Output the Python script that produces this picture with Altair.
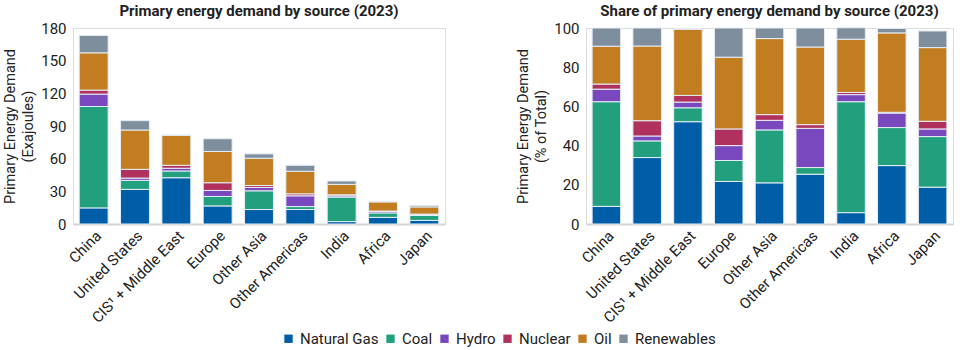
import altair as alt
import pandas as pd

regions = ["China", "United States", "CIS¹ + Middle East", "Europe", "Other Asia",
           "Other Americas", "India", "Africa", "Japan"]
sources = ["Natural Gas", "Coal", "Hydro", "Nuclear", "Oil", "Renewables"]
colors = ["#005EA8", "#22A07D", "#7A48BE", "#B0315E", "#C17D1F", "#7F8E9D"]

# Exajoules by source, one list per source (regions in order above)
ej_gas = [14.8, 31.8, 42.5, 16.6, 13.3, 13.3, 2.2, 6.1, 3.3]
ej_coal = [93.1, 8.3, 6.2, 8.7, 17.2, 2.7, 22.5, 4.1, 4.5]
ej_hydro = [11.4, 2.1, 2.5, 5.5, 3.1, 9.9, 1.2, 1.6, 0.7]
ej_nuclear = [3.7, 8.0, 2.7, 7.1, 1.8, 1.8, 0.9, 0.1, 0.6]
ej_oil = [34.2, 36.1, 27.5, 28.7, 25.0, 20.7, 9.6, 8.4, 6.6]
ej_renew = [16.0, 8.6, 0.4, 11.7, 4.0, 5.5, 3.1, 0.4, 1.4]

# Share of total (%) by source
pct_gas = [9.0, 33.9, 52.2, 21.7, 21.0, 25.4, 5.8, 29.8, 18.8]
pct_coal = [53.4, 8.5, 7.1, 10.7, 27.0, 3.4, 56.6, 19.4, 25.8]
pct_hydro = [6.4, 2.5, 2.9, 7.6, 4.9, 20.0, 3.6, 7.4, 3.9]
pct_nuclear = [2.6, 7.8, 3.4, 8.5, 2.9, 1.9, 1.1, 0.4, 3.9]
pct_oil = [19.3, 38.1, 33.7, 36.6, 38.8, 39.6, 27.2, 40.5, 37.6]
pct_renew = [9.3, 9.2, 0.4, 14.9, 5.4, 9.7, 5.8, 2.3, 8.5]

ej_lists = [ej_gas, ej_coal, ej_hydro, ej_nuclear, ej_oil, ej_renew]
pct_lists = [pct_gas, pct_coal, pct_hydro, pct_nuclear, pct_oil, pct_renew]

rows = []
for si, s in enumerate(sources):
    for ri, r in enumerate(regions):
        rows.append({"region": r, "source": s, "order": si,
                     "ej": ej_lists[si][ri], "pct": pct_lists[si][ri]})
df = pd.DataFrame(rows)

FONT = "Roboto"
TXT = "#222222"

color = alt.Color("source:N", scale=alt.Scale(domain=sources, range=colors),
                  sort=sources,
                  legend=alt.Legend(title=None, orient="none", direction="horizontal",
                                    legendX=208, legendY=303, symbolType="square",
                                    symbolSize=70, labelFontSize=15, labelFont=FONT,
                                    labelColor=TXT, columnPadding=4,
                                    labelOffset=4, symbolStrokeWidth=0))

xenc = alt.X("region:N", sort=regions, title=None,
             scale=alt.Scale(paddingInner=0.3, paddingOuter=0.15),
             axis=alt.Axis(labelAngle=-45, labelFontSize=15, labelFont=FONT,
                           labelColor=TXT, ticks=False, domainColor="#D4D4D4",
                           domainWidth=2, labelPadding=4))


def yaxis(vals, title):
    return alt.Axis(values=vals, title=title,
                    titleFontSize=14.5, titleFont=FONT, titleFontWeight="normal",
                    titleColor=TXT, titleLineHeight=18, labelFontSize=15,
                    labelFont=FONT, labelColor=TXT, grid=False, ticks=False,
                    domainColor="#DDDDDD", labelPadding=7, titlePadding=5)


bar_style = dict(stroke="#E6EEF5", strokeWidth=1)

left = alt.Chart(df).mark_bar(**bar_style).encode(
    x=xenc,
    y=alt.Y("ej:Q", stack="zero", scale=alt.Scale(domain=[0, 180]),
            axis=yaxis([0, 30, 60, 90, 120, 150, 180],
                       ["Primary Energy Demand", "(Exajoules)"])),
    color=color,
    order=alt.Order("order:Q", sort="ascending"),
).properties(width=372, height=196,
             title=alt.TitleParams("Primary energy demand by source (2023)",
                                   fontSize=15, font=FONT, fontWeight="bold",
                                   color=TXT, offset=2))

right = alt.Chart(df).mark_bar(**bar_style).encode(
    x=xenc,
    y=alt.Y("pct:Q", stack="zero", scale=alt.Scale(domain=[0, 100]),
            axis=yaxis([0, 20, 40, 60, 80, 100],
                       ["Primary Energy Demand", "(% of Total)"])),
    color=color,
    order=alt.Order("order:Q", sort="ascending"),
).properties(width=367, height=196,
             title=alt.TitleParams("Share of primary energy demand by source (2023)",
                                   fontSize=15, font=FONT, fontWeight="bold",
                                   color=TXT, offset=2))

chart = alt.hconcat(left, right, spacing=141, bounds="flush").resolve_scale(
    color="shared").properties(
    padding={"left": 2, "top": 3, "right": 5, "bottom": 5}
).configure_view(stroke=None).configure(background="white")

chart.save("out.html", embed_options={"renderer": "svg", "actions": False})
